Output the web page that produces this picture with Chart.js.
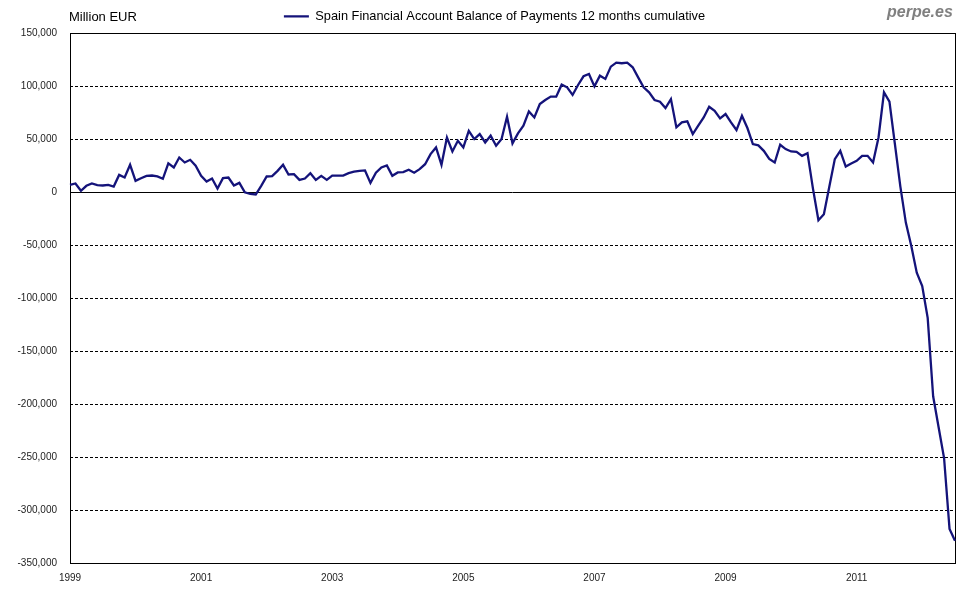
<!DOCTYPE html>
<html><head><meta charset="utf-8">
<script src="https://cdn.jsdelivr.net/npm/chart.js@4.4.0/dist/chart.umd.min.js"></script>
<style>
html,body{margin:0;padding:0;background:#fff;}
#wrap{position:relative;width:980px;height:600px;}
#unit{position:absolute;left:69px;top:9px;font:13px "Liberation Sans",Arial,sans-serif;color:#000;}
#brand{position:absolute;left:887px;top:3px;font:italic bold 16px "Liberation Sans",Arial,sans-serif;color:#808080;}
</style></head><body>
<div id="wrap"><canvas id="c" width="980" height="600"></canvas><div id="unit">Million EUR</div><div id="brand">perpe.es</div></div>
<script>
const seriesName = "Spain Financial Account Balance of Payments 12 months cumulative";
const firstYear = 1999;
const tickYears = ["1999","2001","2003","2005","2007","2009","2011"];
const yTicks = [150000,100000,50000,0,-50000,-100000,-150000,-200000,-250000,-300000,-350000];
// monthly values, Million EUR, Jan 1999 .. Jul 2012
const values = [
  6600, 7900, 1000, 5700, 7900, 6300, 6000, 6600, 5000, 16000, 13500, 25500,
  10400, 12900, 15100, 15400, 14500, 12300, 26800, 23000, 32400, 27700, 30200, 24600,
  15100, 9800, 12600, 3150, 12900, 13500, 6000, 8500, -500, -2000, -2500, 5700,
  14500, 14800, 19800, 25500, 16400, 16700, 11300, 12600, 17600, 11300, 15100, 11300,
  15400, 15400, 15400, 17600, 19000, 19800, 20200, 8500, 18000, 23000, 24900, 15100,
  18300, 18600, 20800, 18000, 21400, 26100, 35600, 41900, 25500, 51300, 38100, 48200,
  41900, 57600, 49800, 54500, 46600, 53000, 43500, 49800, 70900, 45700, 55100, 62400,
  75900, 70200, 82800, 86600, 89800, 89800, 101100, 98600, 91400, 100800, 109000, 111200,
  99500, 109600, 106500, 118100, 121900, 121300, 121900, 117500, 108000, 98600, 93900, 86600,
  85000, 79100, 87500, 60800, 65500, 66500, 54500, 62400, 70200, 80300, 76500, 69300,
  73400, 65500, 58300, 71800, 60200, 45000, 43800, 38700, 31000, 27700, 44400, 40300,
  38100, 37800, 34000, 36500, 3000, -26800, -21100, 5000, 30900, 38700, 23900, 26800,
  29300, 34000, 34000, 27700, 51300, 93900, 85000, 45000, 5000, -29000, -51000, -76200,
  -88800, -118800, -192800, -222000, -251000, -318000, -329000
];
const months = [];
for (let i = 0; i < values.length; i++) {
  const y = firstYear + Math.floor(i / 12), m = (i % 12) + 1;
  months.push(y + "-" + String(m).padStart(2, "0"));
}

const FONT = '"Liberation Sans", Arial, sans-serif';
const gridBox = {
  id: 'gridBox',
  afterLayout(chart) {
    const lg = chart.legend;
    if (lg) { lg.left += 17; lg.right += 17; }
  },
  beforeDatasetsDraw(chart) {
    const {ctx, chartArea: a, scales: {y}} = chart;
    ctx.save();
    ctx.strokeStyle = '#000';
    ctx.lineWidth = 1;
    y.ticks.forEach(t => {
      const py = Math.round(y.getPixelForValue(t.value)) + 0.5;
      ctx.setLineDash(t.value === 0 ? [] : [3, 2]);
      ctx.beginPath(); ctx.moveTo(a.left, py); ctx.lineTo(a.right, py); ctx.stroke();
    });
    ctx.setLineDash([]);
    ctx.strokeRect(Math.round(a.left) + 0.5, Math.round(a.top) + 0.5,
                   Math.round(a.right - a.left), Math.round(a.bottom - a.top));
    ctx.restore();
  }
};

new Chart(document.getElementById('c'), {
  type: 'line',
  data: {
    labels: months,
    datasets: [{
      label: seriesName,
      data: values,
      borderColor: '#14137a',
      backgroundColor: '#14137a',
      borderWidth: 2.3,
      pointRadius: 0,
      tension: 0,
      fill: false
    }]
  },
  options: {
    responsive: false,
    animation: false,
    devicePixelRatio: 1,
    layout: {padding: {left: 0, right: 25, top: 0, bottom: 0}},
    plugins: {
      legend: {
        position: 'top',
        labels: {
          usePointStyle: true,
          pointStyle: 'line',
          pointStyleWidth: 25,
          color: '#000',
          font: {family: FONT, size: 12.8},
          padding: 10
        }
      },
      tooltip: {enabled: false}
    },
    scales: {
      x: {
        type: 'category',
        offset: false,
        grid: {display: false, drawTicks: false},
        border: {display: false},
        ticks: {
          autoSkip: false, maxRotation: 0, padding: 9,
          color: '#222', font: {family: FONT, size: 10},
          callback: function(val) {
            const l = this.getLabelForValue(val);
            return (l.endsWith('-01') && tickYears.includes(l.slice(0, 4))) ? l.slice(0, 4) : null;
          }
        },
        afterFit(s) { s.height = 37; }
      },
      y: {
        min: -350000, max: 150000,
        grid: {display: false, drawTicks: false},
        border: {display: false},
        afterBuildTicks(s) { s.ticks = yTicks.map(v => ({value: v})); },
        ticks: {
          padding: 13, color: '#222', font: {family: FONT, size: 10},
          callback: v => v.toLocaleString('en-US')
        },
        afterFit(s) { s.width = 70; }
      }
    }
  },
  plugins: [gridBox]
});
</script>
</body></html>
